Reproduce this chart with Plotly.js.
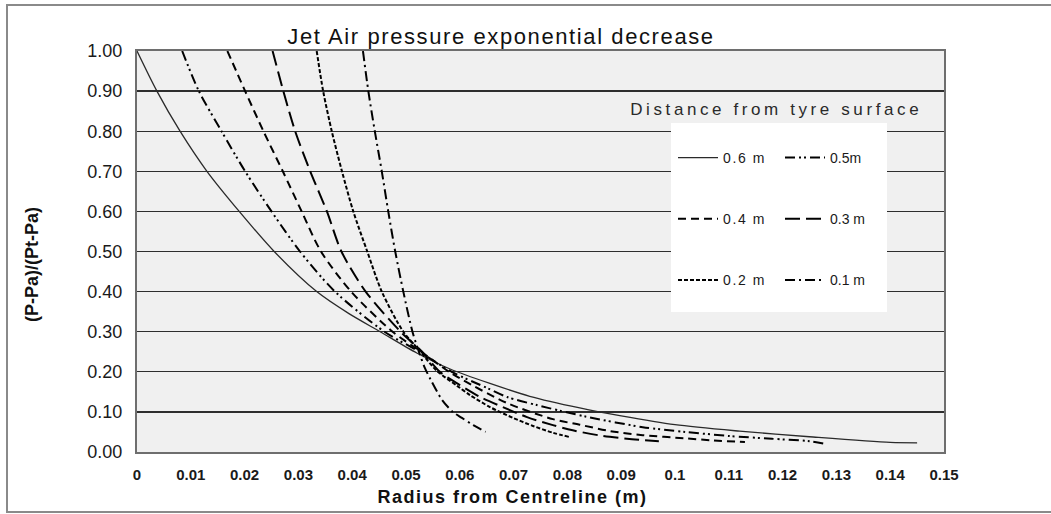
<!DOCTYPE html>
<html><head><meta charset="utf-8">
<script src="https://cdn.plot.ly/plotly-3.0.1.min.js"></script>
<style>
html,body{margin:0;padding:0;background:#fff;}
#chart{width:1051px;height:514px;}
.gtitle{letter-spacing:1.6px;}
.legendtext{letter-spacing:1.6px;}
.annotation[data-index="0"] text{letter-spacing:3.6px;}
.annotation[data-index="1"] text{letter-spacing:1.5px;}
</style></head><body><div id="chart"></div><script>
// Distance from tyre surface (legend names)
const seriesNames = ['0.6 m', '0.5m', '0.4 m', '0.3 m', '0.2 m', '0.1 m'];

// Radius from centreline (m) and (P-Pa)/(Pt-Pa)
const r06 = [0, 0.0037, 0.008, 0.013, 0.019, 0.0255, 0.0334, 0.0394, 0.0452, 0.052, 0.0582, 0.0656, 0.073, 0.0823, 0.09, 0.1, 0.112, 0.125, 0.14, 0.145];
const v06 = [1.00, 0.90, 0.80, 0.70, 0.60, 0.50, 0.40, 0.345, 0.30, 0.247, 0.207, 0.171, 0.139, 0.110, 0.090, 0.068, 0.052, 0.038, 0.024, 0.023];

const r05 = [0.0084, 0.0115, 0.0157, 0.0201, 0.025, 0.0303, 0.0368, 0.046, 0.0525, 0.0585, 0.065, 0.0688, 0.0743, 0.0786, 0.0835, 0.094, 0.102, 0.110, 0.118, 0.125, 0.128];
const v05 = [1.00, 0.90, 0.80, 0.70, 0.60, 0.50, 0.40, 0.30, 0.25, 0.20, 0.16, 0.137, 0.117, 0.103, 0.088, 0.062, 0.050, 0.040, 0.033, 0.027, 0.020];

const r04 = [0.0168, 0.0201, 0.0235, 0.0271, 0.0306, 0.0342, 0.0398, 0.0475, 0.0528, 0.058, 0.0605, 0.0688, 0.0773, 0.0823, 0.088, 0.094, 0.102, 0.107, 0.113];
const v04 = [1.00, 0.90, 0.80, 0.70, 0.60, 0.50, 0.40, 0.30, 0.25, 0.20, 0.18, 0.122, 0.082, 0.068, 0.052, 0.042, 0.034, 0.029, 0.025];

const r03 = [0.0252, 0.0272, 0.0294, 0.0322, 0.0353, 0.038, 0.0425, 0.049, 0.053, 0.0563, 0.060, 0.0638, 0.068, 0.0725, 0.0773, 0.081, 0.0866, 0.092, 0.097];
const v03 = [1.00, 0.90, 0.80, 0.70, 0.60, 0.50, 0.40, 0.30, 0.25, 0.20, 0.167, 0.137, 0.112, 0.087, 0.067, 0.054, 0.040, 0.032, 0.027];

const r02 = [0.0334, 0.0346, 0.0362, 0.0381, 0.0402, 0.0428, 0.0455, 0.0495, 0.0527, 0.0556, 0.0595, 0.0619, 0.0656, 0.0699, 0.0736, 0.0773, 0.0805];
const v02 = [1.00, 0.90, 0.80, 0.70, 0.60, 0.50, 0.40, 0.30, 0.25, 0.204, 0.165, 0.142, 0.112, 0.085, 0.065, 0.048, 0.037];

const r01 = [0.042, 0.043, 0.0442, 0.0455, 0.0467, 0.048, 0.0495, 0.0512, 0.0524, 0.0535, 0.0546, 0.0567, 0.0587, 0.0604, 0.0625, 0.0648];
const v01 = [1.00, 0.90, 0.80, 0.70, 0.60, 0.50, 0.40, 0.30, 0.25, 0.21, 0.18, 0.13, 0.10, 0.085, 0.067, 0.050];

const xTicks = [0, 0.01, 0.02, 0.03, 0.04, 0.05, 0.06, 0.07, 0.08, 0.09, 0.1, 0.11, 0.12, 0.13, 0.14, 0.15];
const xTickText = ['0', '0.01', '0.02', '0.03', '0.04', '0.05', '0.06', '0.07', '0.08', '0.09', '0.1', '0.11', '0.12', '0.13', '0.14', '0.15'];
const yTicks = [0, 0.1, 0.2, 0.3, 0.4, 0.5, 0.6, 0.7, 0.8, 0.9, 1.0];

const titleText = 'Jet Air pressure exponential decrease';
const xTitle = 'Radius from Centreline (m)';
const yTitle = '(P-Pa)/(Pt-Pa)';
const legendTitle = 'Distance from tyre surface';

const FONT = 'Liberation Sans, Arial, sans-serif';
const xs = [r06, r05, r04, r03, r02, r01];
const ys = [v06, v05, v04, v03, v02, v01];
const dashes = ['solid', '10px,4px,2px,3px,2px,4px', '8px,5px', '15px,6px', '4px,2px', '10px,4px,2px,4px'];
const widths = [1.3, 2, 2, 2, 2, 2];
const colors = ['#2a2a2a', '#000', '#000', '#000', '#000', '#000'];
const legends = ['legend', 'legend2', 'legend', 'legend2', 'legend', 'legend2'];

const traces = seriesNames.map((n, i) => ({
  type: 'scatter', mode: 'lines', name: n,
  x: xs[i], y: ys[i],
  line: {color: colors[i], width: widths[i], dash: dashes[i], shape: 'spline', smoothing: 0.8},
  legend: legends[i], legendgroup: 'g' + i, hoverinfo: 'x+y'
}));

// plot area: px 137..944 horizontally, 51..452 vertically
const L = 137, R = 944, T = 51, B = 452;
const px = v => (v - L) / (R - L);
const py = v => (B - v) / (B - T);

const legendCommon = {
  orientation: 'v', bgcolor: 'rgba(0,0,0,0)', borderwidth: 0,
  font: {family: FONT, size: 14, color: '#1a1a1a'},
  tracegroupgap: 40, itemwidth: 40, xanchor: 'left', yanchor: 'top',
  itemclick: false, itemdoubleclick: false
};

const layout = {
  width: 1051, height: 514,
  margin: {l: L, r: 1051 - R, t: T, b: 514 - B, pad: 0},
  paper_bgcolor: '#ffffff', plot_bgcolor: '#f0f0f0',
  font: {family: FONT, color: '#1a1a1a'},
  showlegend: true,
  title: {text: titleText, x: 501 / 1051, xref: 'container', xanchor: 'center',
          y: 1 - 36 / 514, yref: 'container', yanchor: 'middle',
          font: {family: FONT, size: 22, color: '#111'}},
  xaxis: {range: [0, 0.15], tickmode: 'array', tickvals: xTicks, ticktext: xTickText,
          showgrid: false, zeroline: false, showline: true, mirror: true,
          linecolor: '#6e6e6e', linewidth: 2, ticks: '', ticklabelstandoff: 8,
          tickfont: {family: FONT, size: 15, color: '#1a1a1a', weight: 'bold'}},
  yaxis: {range: [0, 1], tickmode: 'array', tickvals: yTicks, tickformat: '.2f',
          showgrid: true, gridcolor: '#2e2e2e', gridwidth: 1.4, zeroline: false,
          showline: true, mirror: true, linecolor: '#6e6e6e', linewidth: 2, ticks: '',
          ticklabelstandoff: 9,
          tickfont: {family: FONT, size: 18, color: '#1a1a1a'}},
  legend: Object.assign({}, legendCommon, {x: px(673), y: py(142)}),
  legend2: Object.assign({}, legendCommon, {x: px(780), y: py(142)}),
  shapes: [
    {type: 'rect', xref: 'paper', yref: 'paper', layer: 'above',
     x0: px(671), x1: px(887), y0: py(312), y1: py(123),
     fillcolor: '#ffffff', line: {width: 0}},
    {type: 'rect', xref: 'paper', yref: 'paper', layer: 'below',
     x0: px(7), x1: px(1060), y0: py(512), y1: py(5),
     fillcolor: 'rgba(0,0,0,0)', line: {color: '#8a8a8a', width: 2}}
  ],
  annotations: [
    {text: legendTitle, xref: 'paper', yref: 'paper', x: px(776), y: py(109),
     xanchor: 'center', yanchor: 'middle', showarrow: false,
     font: {family: FONT, size: 17, color: '#2a2a2a'}},
    {text: xTitle, xref: 'paper', yref: 'paper', x: px(512), y: py(497),
     xanchor: 'center', yanchor: 'middle', showarrow: false,
     font: {family: FONT, size: 18, color: '#111', weight: 'bold'}},
    {text: yTitle, xref: 'paper', yref: 'paper', x: px(32), y: py(265),
     xanchor: 'center', yanchor: 'middle', showarrow: false, textangle: -90,
     font: {family: FONT, size: 18, color: '#111', weight: 'bold'}}
  ]
};

Plotly.newPlot('chart', traces, layout, {staticPlot: true, displayModeBar: false});
</script></body></html>
